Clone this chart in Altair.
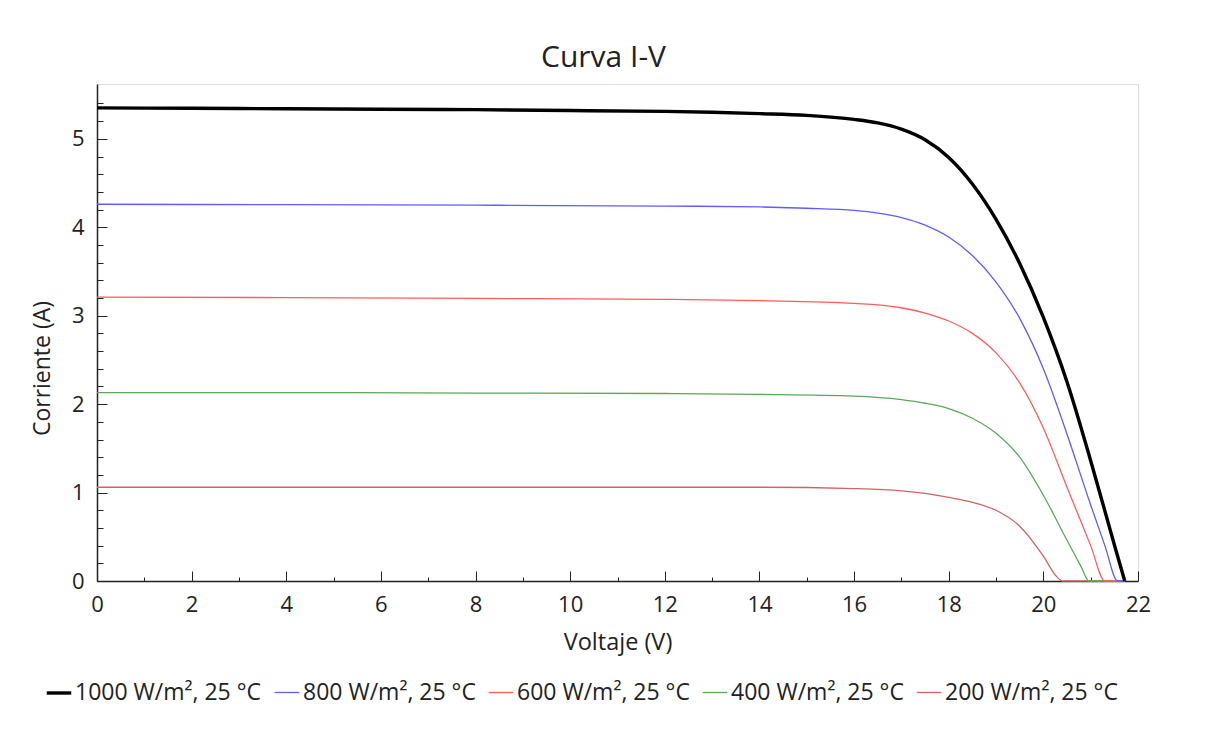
import altair as alt
import pandas as pd

series = ["1000 W/m², 25 °C", "800 W/m², 25 °C", "600 W/m², 25 °C",
          "400 W/m², 25 °C", "200 W/m², 25 °C"]
colors = ["#000000", "#5c5cff", "#ff5c5c", "#5aa85a", "#d06464"]
widths = [3.4, 1.3, 1.3, 1.3, 1.3]

v_1000 = [0, 2, 4, 6, 8, 10, 12, 13, 14, 15, 16, 16.5, 17, 17.5, 18, 18.5, 19, 19.5, 20, 20.5, 21, 21.5, 21.72]
i_1000 = [5.35, 5.345, 5.34, 5.335, 5.33, 5.32, 5.31, 5.30, 5.285, 5.265, 5.22, 5.18, 5.11, 4.99, 4.79, 4.49, 4.09, 3.59, 2.98, 2.25, 1.36, 0.41, 0.0]

v_800 = [0, 4, 8, 12, 14, 15, 16, 16.5, 17, 17.5, 18, 18.5, 19, 19.5, 20, 20.5, 21, 21.3, 21.57, 21.72]
i_800 = [4.26, 4.255, 4.25, 4.24, 4.23, 4.215, 4.19, 4.16, 4.11, 4.025, 3.89, 3.68, 3.38, 2.97, 2.40, 1.66, 0.86, 0.40, 0.0, 0.0]

v_600 = [0, 4, 8, 12, 14, 16, 17, 17.5, 18, 18.5, 19, 19.5, 20, 20.5, 21, 21.3, 21.72]
i_600 = [3.21, 3.205, 3.195, 3.185, 3.17, 3.14, 3.09, 3.03, 2.94, 2.80, 2.58, 2.24, 1.73, 1.06, 0.40, 0.0, 0.0]

v_400 = [0, 4, 8, 12, 14, 16, 17, 17.5, 18, 18.5, 19, 19.5, 20, 20.5, 20.8, 20.96, 21.72]
i_400 = [2.13, 2.13, 2.125, 2.12, 2.11, 2.09, 2.05, 2.01, 1.95, 1.84, 1.67, 1.40, 0.97, 0.46, 0.16, 0.0, 0.0]

v_200 = [0, 4, 8, 12, 14, 16, 17, 17.5, 18, 18.5, 19, 19.5, 20, 20.25, 20.4, 21.72]
i_200 = [1.06, 1.06, 1.06, 1.06, 1.06, 1.045, 1.02, 0.99, 0.945, 0.89, 0.80, 0.62, 0.28, 0.07, 0.0, 0.0]

x_major = [0, 2, 4, 6, 8, 10, 12, 14, 16, 18, 20, 22]
x_minor = [1, 3, 5, 7, 9, 11, 13, 15, 17, 19, 21]
y_major = [0, 1, 2, 3, 4, 5]
y_minor = [0.2, 0.4, 0.6, 0.8, 1.2, 1.4, 1.6, 1.8, 2.2, 2.4, 2.6, 2.8, 3.2, 3.4, 3.6, 3.8,
           4.2, 4.4, 4.6, 4.8, 5.2, 5.4]

pairs = [(series[4], v_200, i_200), (series[3], v_400, i_400), (series[2], v_600, i_600),
         (series[1], v_800, i_800), (series[0], v_1000, i_1000)]
rows = []
for name, vs, cs in pairs:
    for k, (v, c) in enumerate(zip(vs, cs)):
        rows.append({"serie": name, "V": v, "I": c, "k": k})
df = pd.DataFrame(rows)

FONT = "Open Sans"
INK = "#222222"
xscale = alt.Scale(domain=[0, 22], nice=False, zero=False)
yscale = alt.Scale(domain=[0, 5.62], nice=False, zero=False)

legend_def = alt.Legend(
    title=None, orient="none", direction="horizontal", columns=5,
    legendX=-52, legendY=595, symbolType="stroke", symbolSize=600,
    labelFont=FONT, labelFontSize=23, labelColor=INK, labelOffset=2,
    labelLimit=0, columnPadding=10, padding=0,
)

main = alt.Chart(df).mark_line(interpolate="monotone").encode(
    x=alt.X("V:Q", scale=xscale, axis=alt.Axis(
        values=x_major, orient="bottom", offset=-10, tickSize=10, domain=False,
        grid=False, labelPadding=13, title="Voltaje (V)", titlePadding=15,
        labelFontSize=22, titleFontSize=23.5, labelFont=FONT, titleFont=FONT,
        titleFontWeight="normal", tickColor=INK, labelColor=INK,
        titleColor=INK, format="d", labelFlush=False)),
    y=alt.Y("I:Q", scale=yscale, axis=alt.Axis(
        values=y_major, orient="left", offset=-10, tickSize=10, domain=False,
        grid=False, labelPadding=13, title="Corriente (A)", titlePadding=17,
        titleY=284,
        labelFontSize=22, titleFontSize=23, labelFont=FONT, titleFont=FONT,
        titleFontWeight="normal", tickColor=INK, labelColor=INK,
        titleColor=INK, format="d", labelFlush=False)),
    color=alt.Color("serie:N", scale=alt.Scale(domain=series, range=colors), legend=legend_def),
    strokeWidth=alt.StrokeWidth("serie:N", scale=alt.Scale(type="ordinal", domain=series, range=widths),
                                legend=legend_def),
    order="k:Q",
    detail="serie:N",
)

minor = alt.Chart(df).mark_line(strokeOpacity=0).encode(
    x=alt.X("V:Q", scale=xscale, axis=alt.Axis(
        values=x_minor, orient="bottom", offset=-4, tickSize=4, domain=False,
        grid=False, labels=False, title=None, tickColor=INK)),
    y=alt.Y("I:Q", scale=yscale, axis=alt.Axis(
        values=y_minor, orient="left", offset=-6, tickSize=6, domain=False,
        grid=False, labels=False, title=None, tickColor=INK)),
    detail="serie:N",
)

frame = alt.Chart(df).mark_line(strokeOpacity=0).encode(
    x=alt.X("V:Q", scale=xscale, axis=alt.Axis(
        orient="bottom", domain=True, domainColor=INK, domainWidth=1.5,
        ticks=False, labels=False, grid=False, title=None)),
    y=alt.Y("I:Q", scale=yscale, axis=alt.Axis(
        orient="left", domain=True, domainColor=INK, domainWidth=1.5,
        ticks=False, labels=False, grid=False, title=None)),
    detail="serie:N",
)

chart = alt.layer(frame, minor, main).resolve_axis(
    x="independent", y="independent"
).properties(
    width=1041, height=497,
    title=alt.Title("Curva I-V", font=FONT, fontSize=30, fontWeight="normal",
                    color=INK, offset=11, dx=-14),
    autosize=alt.AutoSizeParams(type="none"),
    padding={"left": 89, "top": 76, "right": 60, "bottom": 140},
).configure_view(
    stroke="#777777", strokeWidth=1.5
).configure(background="white")

chart.save("out.html", embed_options={"renderer": "svg", "actions": False})
